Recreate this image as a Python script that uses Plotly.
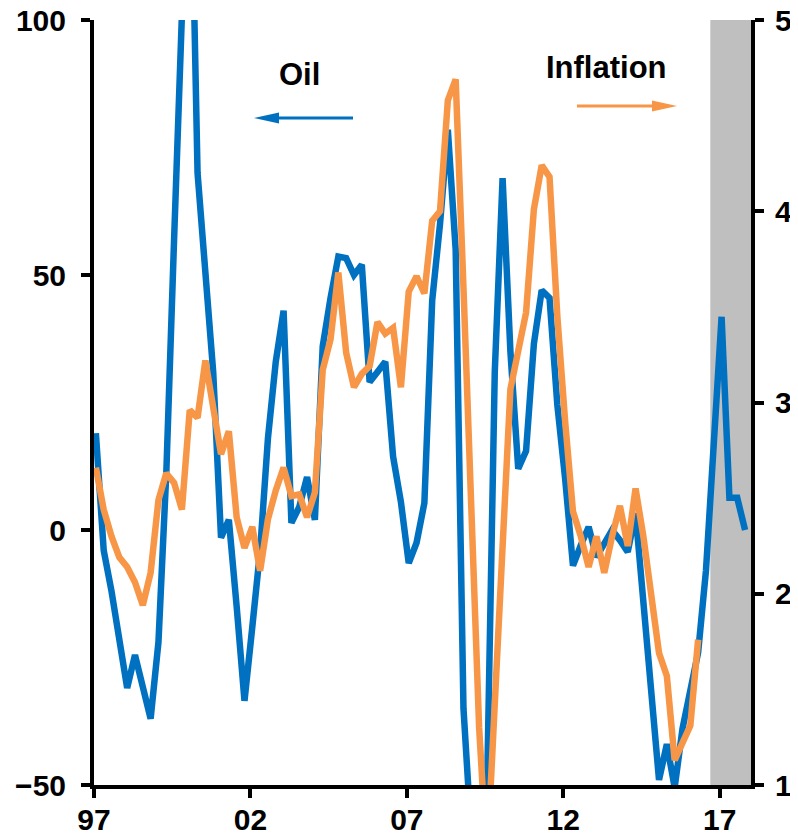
import plotly.graph_objects as go

# ---- data (quarterly, 1997Q1 ..) ----
start_year = 1997.06
oil = [19, -4, -12, -21, -31, -24.5, -30.5, -37, -22, 11,
       57, 103, 145, 70, 51, 31, -1.5, 2, -15, -33.5,
       -19, -4, 18, 33, 43, 1.4, 4.5, 10.4, 2, 36,
       45.5, 53.6, 53.3, 50, 52, 29, 31, 33, 14.4, 5.5,
       -6.5, -2.5, 5.3, 45, 60, 78.5, 55, -35, -60, -65,
       -52, 31, 69, 35, 12, 15.5, 36.5, 47, 45.5, 24.5,
       10, -7, -3, 0.6, -5.3, -2.5, 0, -2, -4.3, 3.3,
       -14.5, -33, -49, -42, -50.5, -39, -32, -24, -8, 15,
       41.8, 6.3, 6.3, 0]
inflation = [2.66, 2.44, 2.30, 2.19, 2.14, 2.06, 1.94, 2.11, 2.49, 2.63,
             2.58, 2.44, 2.96, 2.92, 3.22, 2.98, 2.73, 2.85, 2.40, 2.24,
             2.35, 2.12, 2.39, 2.54, 2.66, 2.51, 2.52, 2.40, 2.53, 3.17,
             3.33, 3.68, 3.26, 3.08, 3.15, 3.19, 3.42, 3.36, 3.39, 3.08,
             3.58, 3.66, 3.57, 3.95, 4.00, 4.58, 4.69, 3.60, 2.46, 1.30,
             0.60, 1.41, 2.35, 3.07, 3.27, 3.47, 4.01, 4.24, 4.18, 3.45,
             2.90, 2.43, 2.30, 2.14, 2.30, 2.11, 2.30, 2.46, 2.25, 2.55,
             2.30, 2.00, 1.69, 1.57, 1.13, 1.22, 1.31, 1.76]
x_oil = [start_year + 0.25 * i for i in range(len(oil))]
x_inf = [start_year + 0.25 * i for i in range(len(inflation))]

tick_years = [1997, 2002, 2007, 2012, 2017]
tick_labels = ["97", "02", "07", "12", "17"]
left_ticks = [-50, 0, 50, 100]
right_ticks = [1, 2, 3, 4, 5]
shade_start, shade_end = 2016.7, 2018.0

BLUE = "#0070C0"
ORANGE = "#F79646"
TICKFONT = dict(family="Liberation Sans, Arial, sans-serif", size=30, color="black", weight="bold")
LABELFONT = dict(family="Liberation Sans, Arial, sans-serif", size=31, color="black", weight="bold")

# The page body has an 8px margin; the figure is shrunk and margins shifted to compensate.
OFF = 8
W, H = 798 - OFF, 840 - OFF
# plot area in page pixels
L, R, T, B = 94, 751, 20, 785

def px(xp):
    return (xp - L) / (R - L)

def py(yp):
    return (B - yp) / (B - T)

fig = go.Figure()
fig.add_trace(go.Scatter(x=x_oil, y=oil, mode="lines", yaxis="y",
                         line=dict(color=BLUE, width=6.5), showlegend=False))
fig.add_trace(go.Scatter(x=x_inf, y=inflation, mode="lines", yaxis="y2",
                         line=dict(color=ORANGE, width=6.5), showlegend=False))

fig.add_shape(type="rect", xref="x", yref="paper", x0=shade_start, x1=shade_end,
              y0=0, y1=1, fillcolor="#BFBFBF", line=dict(width=0), layer="below")

def arrow(x_tail, x_tip, y, color):
    d = 1 if x_tip > x_tail else -1
    head_len, head_half = 25, 5.5
    x_base = x_tip - d * head_len
    fig.add_shape(type="line", xref="paper", yref="paper",
                  x0=px(x_tail), x1=px(x_base + d * 2), y0=py(y), y1=py(y),
                  line=dict(color=color, width=3))
    path = (f"M {px(x_tip)} {py(y)} L {px(x_base)} {py(y - head_half)} "
            f"L {px(x_base)} {py(y + head_half)} Z")
    fig.add_shape(type="path", xref="paper", yref="paper", path=path,
                  fillcolor=color, line=dict(color=color, width=0))

arrow(353, 254, 118, BLUE)
arrow(577, 677, 106, ORANGE)

fig.add_annotation(xref="paper", yref="paper", x=px(299), y=py(75), text="Oil",
                   showarrow=False, font=LABELFONT, xanchor="center", yanchor="middle")
fig.add_annotation(xref="paper", yref="paper", x=px(606), y=py(67), text="Inflation",
                   showarrow=False, font=LABELFONT, xanchor="center", yanchor="middle")

axis_common = dict(showgrid=False, zeroline=False, showline=True, linecolor="black",
                   linewidth=4, ticks="outside", ticklen=9, tickwidth=4,
                   tickcolor="black", tickfont=TICKFONT, automargin=False,
                   ticklabeloverflow="allow")

fig.update_layout(
    width=W, height=H,
    margin=dict(l=L - OFF, r=W - (R - OFF), t=T - OFF, b=H - (B - OFF), autoexpand=False),
    plot_bgcolor="white", paper_bgcolor="white",
    font=TICKFONT,
    xaxis=dict(range=[1997, 2018], tickvals=tick_years, ticktext=tick_labels,
               ticklabelstandoff=-4, **axis_common),
    yaxis=dict(range=[-50, 100], tickvals=left_ticks, ticklabelstandoff=9,
               **axis_common),
    yaxis2=dict(range=[1, 5], tickvals=right_ticks, overlaying="y", side="right",
                ticklabelstandoff=5, **axis_common),
)

fig.write_html("out.html")
